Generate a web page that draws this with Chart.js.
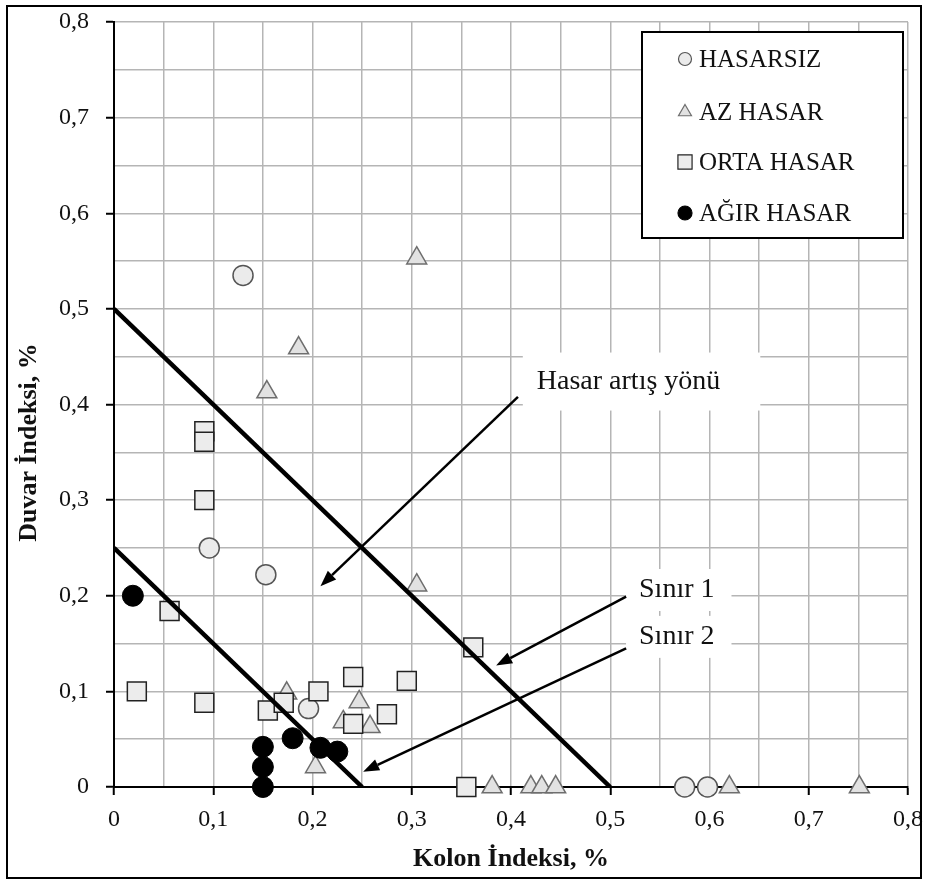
<!DOCTYPE html>
<html lang="tr">
<head>
<meta charset="utf-8">
<title>Duvar ve Kolon İndeksi</title>
<script src="https://cdn.jsdelivr.net/npm/chart.js@4.4.1/dist/chart.umd.min.js"></script>
<style>
  html, body { margin: 0; padding: 0; background: #fff; }
  #wrap { width: 929px; height: 879px; position: relative; }
</style>
</head>
<body>
<div id="wrap"><canvas id="myChart"></canvas></div>
<script>
'use strict';

const FONT = "'Liberation Serif', 'Times New Roman', serif";

// HASARSIZ
let hasarsizX = [0.130, 0.096, 0.153, 0.196, 0.575, 0.598];
let hasarsizY = [0.535, 0.250, 0.222, 0.082, 0.000, 0.000];

// AZ HASAR
let azHasarX = [0.305, 0.186, 0.154, 0.305, 0.174, 0.247, 0.231, 0.258, 0.203, 0.381, 0.420, 0.431, 0.445, 0.620, 0.751];
let azHasarY = [0.553, 0.459, 0.413, 0.211, 0.098, 0.089, 0.068, 0.063, 0.021, 0.000, 0.000, 0.000, 0.000, 0.000, 0.000];

// ORTA HASAR
let ortaHasarX = [0.091, 0.091, 0.091, 0.056, 0.023, 0.091, 0.155, 0.171, 0.206, 0.241, 0.241, 0.275, 0.295, 0.362, 0.355];
let ortaHasarY = [0.372, 0.361, 0.300, 0.184, 0.100, 0.088, 0.080, 0.088, 0.100, 0.115, 0.066, 0.076, 0.111, 0.146, 0.000];

// AĞIR HASAR
let agirHasarX = [0.019, 0.150, 0.150, 0.150, 0.180, 0.208, 0.225];
let agirHasarY = [0.200, 0.042, 0.021, 0.000, 0.051, 0.041, 0.037];

// limit lines
let sinir1X = [0, 0.5];
let sinir1Y = [0.5, 0];
let sinir2X = [0, 0.25];
let sinir2Y = [0.25, 0];

let tickLabels = ['0', '0,1', '0,2', '0,3', '0,4', '0,5', '0,6', '0,7', '0,8'];

// text notes and arrows, in axis units
let notes = [
    { text: 'Hasar artış yönü', x: 0.426, y: 0.424, padL: 14, padR: 40, padV: 29 },
    { text: 'Sınır 1', x: 0.529, y: 0.206, padL: 13, padR: 17, padV: 21 },
    { text: 'Sınır 2', x: 0.529, y: 0.157, padL: 13, padR: 17, padV: 21 }
];
let arrows = [
    [0.407, 0.408, 0.208, 0.210],
    [0.516, 0.199, 0.385, 0.127],
    [0.516, 0.145, 0.251, 0.016]
];

function pts(xs, ys) {
    let out = [];
    for (let i = 0; i < xs.length; i++) {
        out.push({ x: xs[i], y: ys[i] });
    }
    return out;
}

function isMajor(v) {
    return Math.round(v * 20) % 2 === 0;
}

function tickText(v) {
    let k = Math.round(v * 20);
    if (k % 2) return '';
    return tickLabels[k / 2];
}

function drawArrow(ctx, x1, y1, x2, y2) {
    let ang = Math.atan2(y2 - y1, x2 - x1);
    let head = 16;
    let half = 6;
    let bx = x2 - Math.cos(ang) * head;
    let by = y2 - Math.sin(ang) * head;
    ctx.beginPath();
    ctx.moveTo(x1, y1);
    ctx.lineTo(bx, by);
    ctx.stroke();
    ctx.beginPath();
    ctx.moveTo(x2, y2);
    ctx.lineTo(bx + Math.sin(ang) * half, by - Math.cos(ang) * half);
    ctx.lineTo(bx - Math.sin(ang) * half, by + Math.cos(ang) * half);
    ctx.closePath();
    ctx.fill();
}

let extras = {
    id: 'extras',
    beforeDraw(chart) {
        let ctx = chart.ctx;
        ctx.save();
        ctx.fillStyle = '#fff';
        ctx.fillRect(0, 0, chart.width, chart.height);
        ctx.restore();
    },
    beforeDatasetsDraw(chart) {
        // white boxes behind the notes
        let ctx = chart.ctx;
        let xs = chart.scales.x;
        let ys = chart.scales.y;
        ctx.save();
        ctx.font = '28px ' + FONT;
        ctx.fillStyle = '#fff';
        notes.forEach(n => {
            let px = xs.getPixelForValue(n.x);
            let py = ys.getPixelForValue(n.y);
            let w = ctx.measureText(n.text).width;
            ctx.fillRect(px - n.padL, py - n.padV, w + n.padL + n.padR, n.padV * 2);
        });
        ctx.restore();
    },
    afterDatasetsDraw(chart) {
        let ctx = chart.ctx;
        let xs = chart.scales.x;
        let ys = chart.scales.y;
        ctx.save();
        ctx.strokeStyle = '#000';
        ctx.fillStyle = '#000';
        ctx.lineWidth = 2.5;
        arrows.forEach(a => {
            drawArrow(ctx, xs.getPixelForValue(a[0]), ys.getPixelForValue(a[1]),
                xs.getPixelForValue(a[2]), ys.getPixelForValue(a[3]));
        });
        ctx.font = '28px ' + FONT;
        ctx.fillStyle = '#111';
        ctx.textBaseline = 'middle';
        ctx.textAlign = 'left';
        notes.forEach(n => {
            ctx.fillText(n.text, xs.getPixelForValue(n.x), ys.getPixelForValue(n.y));
        });
        ctx.restore();
    },
    afterDraw(chart) {
        let ctx = chart.ctx;
        let area = chart.chartArea;
        ctx.save();

        // legend box
        let lx = area.right - 266;
        let ly = area.top + 10;
        ctx.fillStyle = '#fff';
        ctx.fillRect(lx, ly, 261, 206);
        ctx.strokeStyle = '#000';
        ctx.lineWidth = 2;
        ctx.strokeRect(lx, ly, 261, 206);
        let rows = [27, 80, 130, 181];
        let sizes = [6.5, 7.5, 10, 7];
        ctx.font = '25px ' + FONT;
        ctx.textBaseline = 'middle';
        chart.data.datasets.slice(0, 4).forEach((ds, i) => {
            let cy = ly + rows[i];
            ctx.fillStyle = ds.backgroundColor;
            ctx.strokeStyle = ds.borderColor;
            ctx.lineWidth = 1.2;
            Chart.helpers.drawPoint(ctx, {
                pointStyle: ds.pointStyle, radius: sizes[i], rotation: 0, borderWidth: 1.2
            }, lx + 43, cy);
            ctx.fillStyle = '#111';
            ctx.fillText(ds.label, lx + 57, cy + 1);
        });

        // y axis title
        ctx.translate(29, (area.top + area.bottom) / 2 + 38);
        ctx.rotate(-Math.PI / 2);
        ctx.font = 'bold 26px ' + FONT;
        ctx.fillStyle = '#111';
        ctx.textAlign = 'center';
        ctx.fillText('Duvar İndeksi, %', 0, 0);
        ctx.setTransform(1, 0, 0, 1, 0, 0);

        // outer frame
        ctx.strokeStyle = '#000';
        ctx.lineWidth = 2;
        ctx.strokeRect(7, 6, 914, 872);
        ctx.restore();
    }
};

let gridStyle = {
    color: '#b5b5b5',
    lineWidth: 1.5,
    tickLength: 8,
    tickWidth: 2,
    tickColor: c => (c.tick && isMajor(c.tick.value)) ? '#000' : 'rgba(0,0,0,0)'
};

function fixX(s) {
    s.height = 92;
    s.paddingLeft = 0;
    s.paddingRight = 0;
}

function fixY(s) {
    s.width = 114;
    s.paddingTop = 0;
    s.paddingBottom = 0;
}

let ctx = document.getElementById('myChart').getContext('2d');
new Chart(ctx, {
    type: 'scatter',
    data: {
        datasets: [{
            label: 'HASARSIZ',
            data: pts(hasarsizX, hasarsizY),
            pointStyle: 'circle',
            pointRadius: 10,
            backgroundColor: '#ebebeb',
            borderColor: '#555',
            borderWidth: 1.5,
            clip: false,
            order: 4
        },
        {
            label: 'AZ HASAR',
            data: pts(azHasarX, azHasarY),
            pointStyle: 'triangle',
            pointRadius: 11.5,
            backgroundColor: '#e2e2e2',
            borderColor: '#6e6e6e',
            borderWidth: 1.5,
            clip: false,
            order: 3
        },
        {
            label: 'ORTA HASAR',
            data: pts(ortaHasarX, ortaHasarY),
            pointStyle: 'rect',
            pointRadius: 13.4,
            backgroundColor: '#ececec',
            borderColor: '#222',
            borderWidth: 1.5,
            clip: false,
            order: 2
        },
        {
            label: 'AĞIR HASAR',
            data: pts(agirHasarX, agirHasarY),
            pointStyle: 'circle',
            pointRadius: 10.5,
            backgroundColor: '#000',
            borderColor: '#000',
            borderWidth: 1,
            clip: false,
            order: 1
        },
        {
            label: 'Sınır 1',
            type: 'line',
            data: pts(sinir1X, sinir1Y),
            showLine: true,
            pointRadius: 0,
            borderColor: '#000',
            borderWidth: 4.5,
            fill: false,
            order: 0
        },
        {
            label: 'Sınır 2',
            type: 'line',
            data: pts(sinir2X, sinir2Y),
            showLine: true,
            pointRadius: 0,
            borderColor: '#000',
            borderWidth: 4.5,
            fill: false,
            order: 0
        }]
    },
    options: {
        responsive: true,
        maintainAspectRatio: false,
        animation: false,
        events: [],
        layout: { padding: { left: 0, top: 22, right: 21, bottom: 0 } },
        plugins: {
            legend: { display: false },
            tooltip: { enabled: false }
        },
        scales: {
            x: {
                type: 'linear',
                min: 0,
                max: 0.8,
                afterFit: fixX,
                ticks: {
                    stepSize: 0.05,
                    autoSkip: false,
                    maxRotation: 0,
                    padding: 10,
                    color: '#111',
                    font: { family: FONT, size: 24 },
                    callback: tickText
                },
                grid: gridStyle,
                border: { color: '#000', width: 2 },
                title: {
                    display: true,
                    text: 'Kolon İndeksi, %',
                    color: '#111',
                    font: { family: FONT, size: 26, weight: 'bold' },
                    padding: { top: 0, bottom: 4 }
                }
            },
            y: {
                type: 'linear',
                min: 0,
                max: 0.8,
                afterFit: fixY,
                ticks: {
                    stepSize: 0.05,
                    autoSkip: false,
                    padding: 17,
                    color: '#111',
                    font: { family: FONT, size: 24 },
                    callback: tickText
                },
                grid: gridStyle,
                border: { color: '#000', width: 2 }
            }
        }
    },
    plugins: [extras]
});
</script>
</body>
</html>
